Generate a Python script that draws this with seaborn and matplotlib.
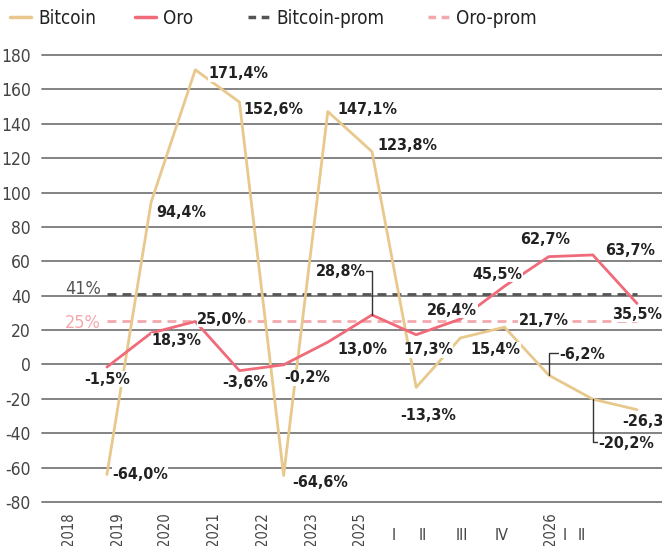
import matplotlib
matplotlib.use("Agg")
import matplotlib.pyplot as plt
import matplotlib.transforms as mtransforms
from matplotlib import font_manager
from matplotlib.lines import Line2D
import seaborn as sns
import pandas as pd

# Yearly / quarterly % change
bitcoin = [-64.0, 94.4, 171.4, 152.6, -64.6, 147.1, 123.8, -13.3, 15.4, 21.7, -6.2, -20.2, -26.3]
oro = [-1.5, 18.3, 25.0, -3.6, -0.2, 13.0, 28.8, 17.3, 26.4, 45.5, 62.7, 63.7, 35.5]
bitcoin_avg = 41
oro_avg = 25
period_labels = ["2018", "2019", "2020", "2021", "2022", "2023", "2025",
                 "I", "II", "III", "IV", "2026", "I", "II"]
y_ticks = list(range(-80, 181, 20))
series_names = ["Bitcoin", "Oro", "Bitcoin-prom", "Oro-prom"]

# Layout of the period labels along the bottom axis (data x units)
period_pos = [-0.88, 0.23, 1.31, 2.42, 3.53, 4.62, 5.71,
              6.48, 7.15, 8.04, 8.94, 10.03, 10.37, 10.75]

# Label placement (dx, dy in pixels, horizontal alignment, leader line)
btc_lab = [(5, 0, "left", None), (5, -10, "left", None), (13, -4, "left", None),
           (4, -7, "left", None), (9, -7, "left", None), (10, 2, "left", None),
           (5, 6, "left", None), (-16, -28, "left", None), (10, -12, "left", None),
           (14, 7, "left", None), (11, 21, "left", "h"), (5, -44, "left", "h"),
           (-15, -12, "left", None)]
oro_lab = [(0, -12, "center", None), (0, -8, "left", None), (2, 2, "left", None),
           (-17, -12, "left", None), (1, -13, "left", None), (10, -7, "left", None),
           (-6, 43, "right", "h"), (-13, -15, "left", None), (-33, 9, "left", None),
           (-32, 12, "left", None), (-29, 17, "left", None), (12, 4, "left", None),
           (-25, -11, "left", None)]
legend_x = [10, 135, 248, 428]  # legend entry left edges, pixels

C_BTC = "#E8C88C"
C_ORO = "#F06A7A"
C_BTC_AVG = "#555555"
C_ORO_AVG = "#F3A9AC"
C_GRID = "#7a7a7a"
C_TEXT = "#444444"
C_LABEL = "#222222"

sns.set_theme(style="white")
names = {f.name for f in font_manager.fontManager.ttflist}
if "Liberation Sans Narrow" in names:
    plt.rcParams["font.family"] = ["Liberation Sans Narrow", "DejaVu Sans"]
else:
    plt.rcParams["font.family"] = ["DejaVu Sans"]
    plt.rcParams["font.stretch"] = "condensed"

W, H = 662, 546
fig = plt.figure(figsize=(W / 100, H / 100), dpi=100)
ax = fig.add_axes([42 / W, (H - 502) / H, (W - 42) / W, (502 - 55) / H])

n = len(bitcoin)
idx = list(range(n))
df = pd.DataFrame({
    "x": idx + idx,
    "valor": bitcoin + oro,
    "serie": ["Bitcoin"] * n + ["Oro"] * n,
})
sns.lineplot(data=df, x="x", y="valor", hue="serie",
             palette={"Bitcoin": C_BTC, "Oro": C_ORO},
             linewidth=2.0, legend=False, sort=False, ax=ax, zorder=3)

# averages
dash = (0, (3.2, 2.2))
ax.hlines(bitcoin_avg, 0, n - 1, colors=C_BTC_AVG, linestyles=dash,
          linewidth=2.0, zorder=2)
ax.hlines(oro_avg, 0, n - 1, colors=C_ORO_AVG, linestyles=dash,
          linewidth=2.0, zorder=2)
ax.text(-0.14, bitcoin_avg, f"{bitcoin_avg}%", ha="right", va="baseline",
        fontsize=13, color=C_BTC_AVG)
ax.text(-0.14, oro_avg, f"{oro_avg}%", ha="right", va="center_baseline",
        fontsize=13, color=C_ORO_AVG)

ax.set_xlim(-1.47, 12.565)
ax.set_ylim(-80, 180)
ax.set_yticks(y_ticks)
ax.set_yticklabels([str(v) for v in y_ticks], fontsize=12.5, color=C_TEXT)
ax.tick_params(axis="y", length=0, pad=8)
ax.set_xticks([])
ax.set_xlabel("")
ax.set_ylabel("")
for s in ax.spines.values():
    s.set_visible(False)
ax.grid(axis="y", color=C_GRID, linewidth=1.3)
ax.grid(axis="x", visible=False)
for gl in ax.get_ygridlines():
    gl.set_clip_on(False)
ax.set_axisbelow(True)


def fmt(v):
    return f"{v:.1f}%".replace(".", ",")


def label_series(values, spec):
    for i, (v, (dx, dy, ha, lead)) in enumerate(zip(values, spec)):
        kw = {}
        if lead:
            rx = 0.0 if ha == "left" else 1.0
            kw["arrowprops"] = dict(arrowstyle="-", color="#333333", lw=1.0,
                                    shrinkA=0, shrinkB=0, relpos=(rx, 0.55),
                                    connectionstyle="angle,angleA=0,angleB=90,rad=0")
        ax.annotate(fmt(v), xy=(i, v), xytext=(dx, dy), textcoords="offset pixels",
                    ha=ha, va="center", fontsize=11.5, fontweight="bold",
                    color=C_LABEL, zorder=6, annotation_clip=False,
                    bbox=dict(boxstyle="square,pad=0.02", fc="white", ec="none"),
                    **kw)


label_series(bitcoin, btc_lab)
label_series(oro, oro_lab)

# period labels below the axis
tr = mtransforms.blended_transform_factory(ax.transData, fig.transFigure)
for p, lab in zip(period_pos, period_labels):
    if lab.isdigit():
        ax.text(p, (H - 512) / H, lab, rotation=90, ha="center", va="top",
                fontsize=10.5, color=C_TEXT, transform=tr, clip_on=False)
    else:
        ax.text(p, (H - 535) / H, lab, ha="center", va="center",
                fontsize=11.5, color=C_TEXT, transform=tr, clip_on=False)

handles = [
    Line2D([], [], color=C_BTC, lw=2.5),
    Line2D([], [], color=C_ORO, lw=2.5),
    Line2D([], [], color=C_BTC_AVG, lw=2.5, linestyle=(0, (2.2, 1.6))),
    Line2D([], [], color=C_ORO_AVG, lw=2.5, linestyle=(0, (2.2, 1.6))),
]
for h, name, lx in zip(handles, series_names, legend_x):
    fig.legend([h], [name], loc="upper left",
               bbox_to_anchor=(lx / W, 1 - 9 / H), frameon=False,
               fontsize=13.5, handlelength=1.1, handletextpad=0.4,
               borderaxespad=0, borderpad=0, labelcolor="#222222")

fig.savefig("out.png", dpi=100)
